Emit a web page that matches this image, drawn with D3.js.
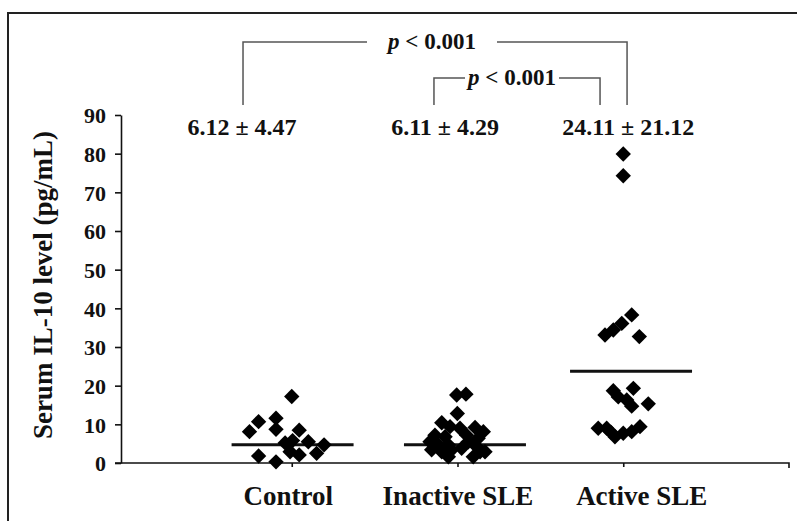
<!DOCTYPE html>
<html>
<head>
<meta charset="utf-8">
<script src="https://cdn.jsdelivr.net/npm/d3@7"></script>
<style>
  body { margin: 0; background: #fff; }
  text { font-family: "Liberation Serif", "Times New Roman", serif; font-weight: bold; fill: #111; }
</style>
</head>
<body>
<div id="chart"></div>
<script>
// categories and group summaries
const categories = ["Control", "Inactive SLE", "Active SLE"];
const catPos = [1, 2, 3];
const meanText = ["6.12 \u00b1 4.47", "6.11 \u00b1 4.29", "24.11 \u00b1 21.12"];
const meanLine = [4.7, 4.7, 23.7];
const yTicks = [0, 10, 20, 30, 40, 50, 60, 70, 80, 90];

// individual points: x is position along category axis (jittered), v is IL-10 level
const controlX = [1.00, 0.80, 0.905, 0.745, 0.905, 1.045, 0.96, 1.005, 1.10, 1.195, 0.99, 1.045, 1.15, 0.80, 0.905];
const controlV = [17.2, 10.7, 11.6, 8.1, 8.7, 8.5, 5.2, 5.8, 5.5, 4.7, 2.9, 2.1, 2.5, 1.8, 0.3];

const inactiveX = [1.995, 2.051, 1.999, 1.905, 1.955, 2.015, 2.106, 2.156, 1.864, 1.925, 2.055, 2.125, 1.834,
                   1.884, 1.945, 2.065, 2.116, 1.844, 1.905, 1.965, 2.025, 2.136, 1.945, 2.095, 2.166];
const inactiveV = [17.6, 17.8, 12.8, 10.4, 9.4, 9.0, 9.2, 8.1, 7.2, 6.8, 7.2, 6.4, 5.5,
                   4.7, 4.7, 5.5, 4.2, 3.4, 2.9, 3.4, 3.8, 2.9, 1.6, 1.6, 2.9];

const activeX = [3.0, 3.0, 3.051, 2.991, 2.94, 2.89, 3.097, 3.061, 2.94, 2.97, 3.021, 3.051, 3.151,
                 2.849, 2.90, 2.95, 3.0, 3.051, 3.101, 2.925];
const activeV = [79.9, 74.3, 38.3, 36.1, 34.4, 33.1, 32.7, 19.3, 18.7, 17.1, 16.3, 14.7, 15.3,
                 9.0, 9.0, 6.8, 7.7, 8.1, 9.4, 8.0];

// significance brackets: [left x, right x, top level, bottom level]
const bracketX = [[0.706, 3.023], [1.858, 2.86]];
const bracketTop = [108.9, 99.6];
const bracketBottom = 92.6;
const pText = "p < 0.001";

const W = 797, H = 521;
const svg = d3.select("#chart").append("svg")
  .attr("width", W).attr("height", H);

// frame
svg.append("path")
  .attr("d", "M8," + H + "V13H" + W)
  .attr("fill", "none").attr("stroke", "#222").attr("stroke-width", 2);

const x = d3.scaleLinear().domain([0, 4]).range([126, 789]);
const y = d3.scaleLinear().domain([0, 90]).range([463, 115]);

// y axis
const gy = svg.append("g")
  .attr("transform", "translate(121,0)")
  .call(d3.axisLeft(y).tickValues(yTicks).tickSize(6).tickSizeOuter(0).tickPadding(9));
gy.selectAll("text").style("font-size", "22px").attr("dy", "0.35em");
gy.selectAll("line, path").attr("stroke", "#111").attr("stroke-width", 1.6);

// x axis
const gx = svg.append("g")
  .attr("transform", "translate(0,463)")
  .call(d3.axisBottom(x).tickValues(catPos).tickFormat((d, i) => categories[i])
    .tickSize(4).tickSizeOuter(0).tickPadding(19));
gx.select(".domain").attr("d", "M115,0H" + x(4) + "V5");
gx.selectAll("line, path").attr("stroke", "#111").attr("stroke-width", 1.6).attr("fill", "none");
gx.selectAll("text").style("font-size", "27px")
  .attr("dx", (d, i) => i === 2 ? 18 : (i === 0 ? -4 : 0));

// y axis title
svg.append("text")
  .attr("transform", "translate(52,285) rotate(-90)")
  .attr("text-anchor", "middle")
  .style("font-size", "27px")
  .text("Serum IL-10 level (pg/mL)");

// mean lines
svg.selectAll(".mean")
  .data(meanLine)
  .enter().append("line")
  .attr("x1", (d, i) => x([1.005, 2.045, 3.047][i] - 0.368))
  .attr("x2", (d, i) => x([1.005, 2.045, 3.047][i] + 0.368))
  .attr("y1", d => y(d)).attr("y2", d => y(d))
  .attr("stroke", "#111").attr("stroke-width", 3);

// points
const pts = [];
controlX.forEach((d, i) => pts.push({ x: d, v: controlV[i] }));
inactiveX.forEach((d, i) => pts.push({ x: d, v: inactiveV[i] }));
activeX.forEach((d, i) => pts.push({ x: d, v: activeV[i] }));

const diamond = d3.symbol(d3.symbolSquare, 118);
svg.selectAll(".pt")
  .data(pts)
  .enter().append("path")
  .attr("d", diamond)
  .attr("transform", d => "translate(" + x(d.x) + "," + y(d.v) + ") rotate(45)")
  .attr("fill", "#000");

// mean +- sd labels
const labelX = [0.70, 1.925, 3.03];
svg.selectAll(".ms")
  .data(meanText)
  .enter().append("text")
  .attr("x", (d, i) => x(labelX[i]))
  .attr("y", 135)
  .attr("text-anchor", "middle")
  .style("font-size", "24px")
  .text(d => d);

// brackets
const gapHalf = [65, 47];
const pCenter = [432, 512];
bracketX.forEach((b, i) => {
  const yt = y(bracketTop[i]), yb = y(bracketBottom);
  const cx = pCenter[i];
  svg.append("path")
    .attr("d", "M" + x(b[0]) + "," + yb + "V" + yt + "H" + (cx - gapHalf[i]) +
               "M" + (cx + gapHalf[i]) + "," + yt + "H" + x(b[1]) + "V" + yb)
    .attr("fill", "none").attr("stroke", "#555").attr("stroke-width", 1.5);
  const t = svg.append("text")
    .attr("x", cx).attr("y", yt + 7)
    .attr("text-anchor", "middle")
    .style("font-size", "23px");
  t.append("tspan").style("font-style", "italic").text("p");
  t.append("tspan").text(pText.slice(1));
});
</script>
</body>
</html>
